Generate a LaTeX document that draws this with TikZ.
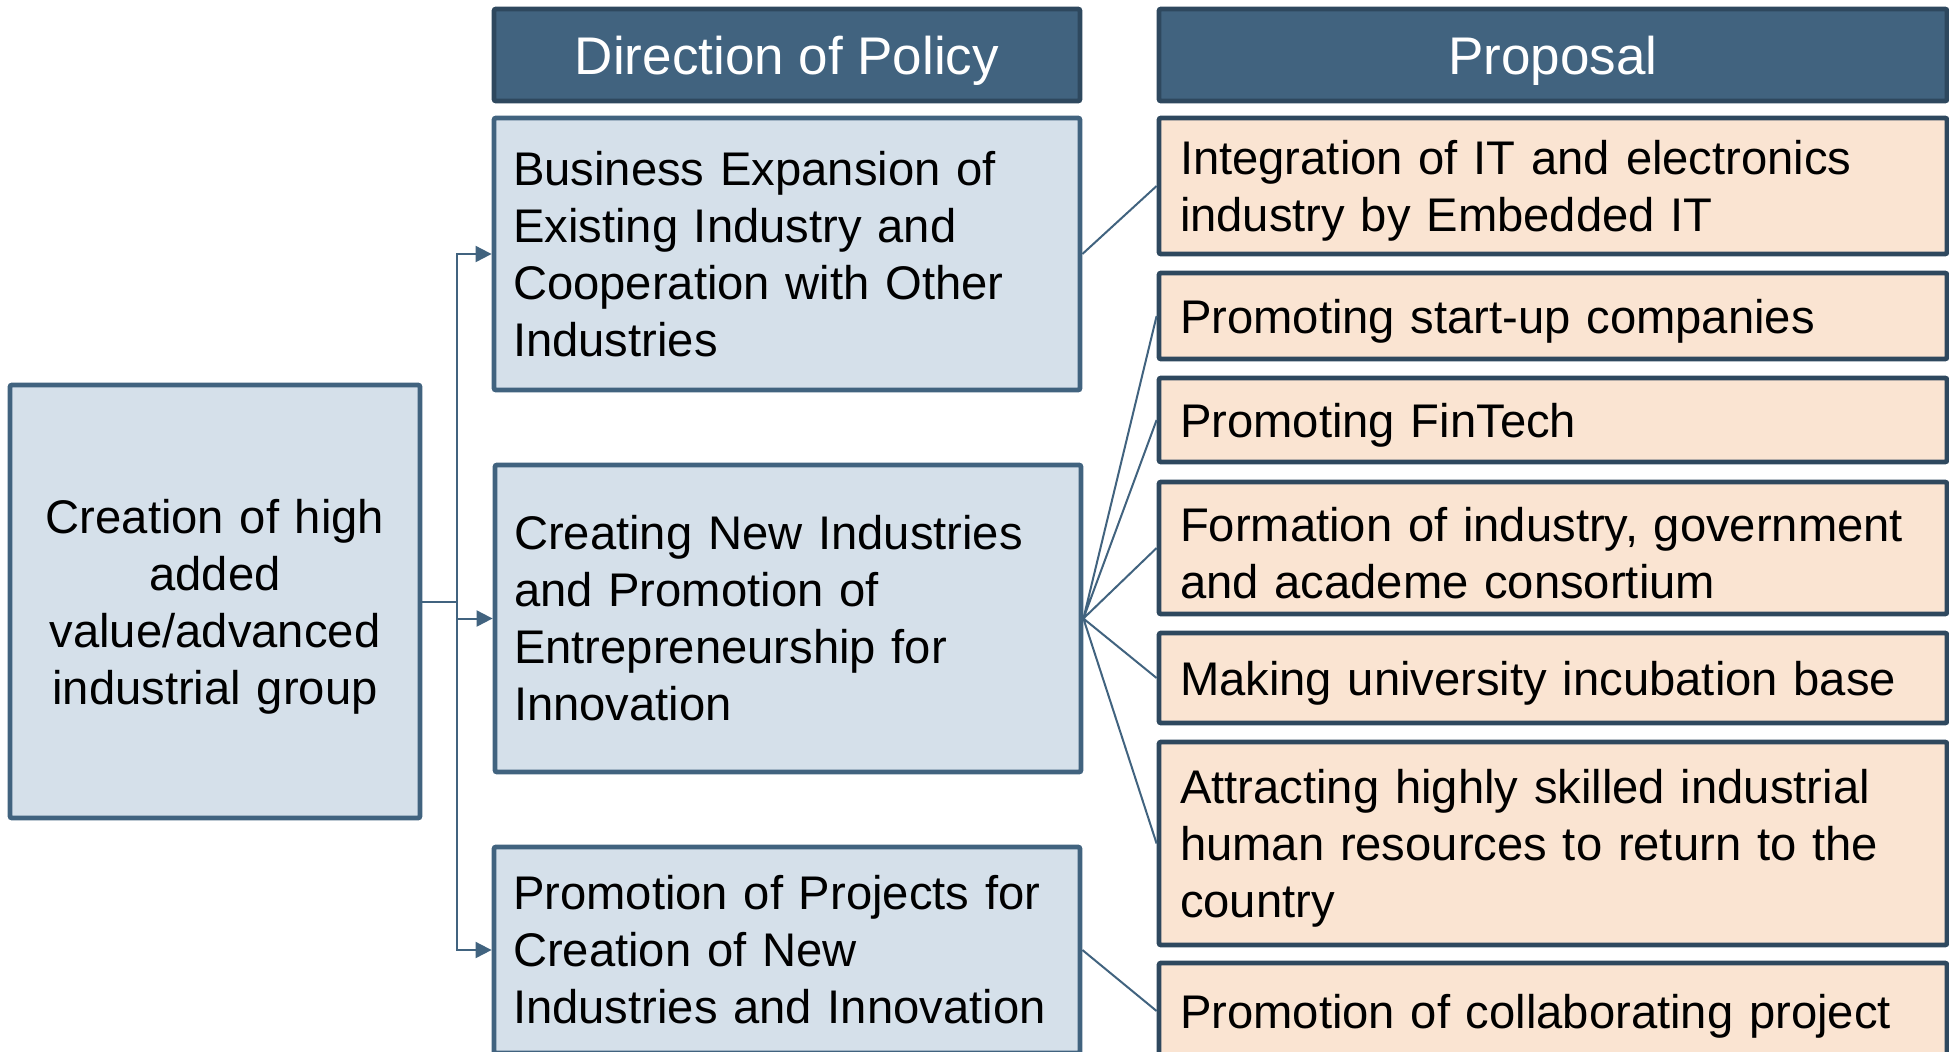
\documentclass[tikz,border=0pt]{standalone}
\usepackage{fontspec}
\setmainfont{Liberation Sans}
\usetikzlibrary{
    arrows.meta,
    positioning
}
\definecolor{boxblue}{HTML}{D5E0EA}
\definecolor{edgeblue}{HTML}{41637F}
\definecolor{darkblue}{HTML}{2E485E}
\definecolor{peach}{HTML}{FAE4D2}
\tikzset{
    base/.style={draw, line width=2.4pt, rounded corners=1pt, inner xsep=10.5pt, inner ysep=0pt,
        font=\fontsize{23.6}{28.5}\selectfont, text=black},
    lower/.style={execute at begin node={\rule{0pt}{22pt}}},
    dirbox/.style={base, draw=edgeblue, fill=boxblue, inner xsep=9.5pt, text width=274pt, align=left},
    propbox/.style={base, lower, draw=darkblue, fill=peach, text width=373pt, align=left},
    headbox/.style={base, draw=darkblue, fill=edgeblue, text=white, align=center,
        font=\fontsize{26.5}{30}\selectfont, minimum height=46pt, text height=22pt, text depth=2.5pt},
    link/.style={edgeblue, line width=1pt},
    branch/.style={link, -{Triangle[length=8pt, width=8pt]}}
}

\begin{document}
\begin{tikzpicture}[x=0.5pt, y=-0.5pt]
                        \clip (0, 0) rectangle (1949, 1051);
                        \node[base, lower, draw=edgeblue, fill=boxblue, text width=184pt, align=center, minimum height=216.5pt] (crea) at (215, 601.5) {Creation of high\\added\\value/advanced\\industrial group};
                        \node[headbox, minimum width=293pt] (dirhead) at (787, 55) {Direction of Policy};
                        \node[headbox, minimum width=394pt] (prophead) at (1553, 55) {Proposal};
                        \node[dirbox, minimum height=136pt] (d1) at (787, 254) {Business Expansion of\\Existing Industry and\\Cooperation with Other\\Industries};
                        \node[dirbox, minimum height=153.5pt] (d2) at (788, 618.5) {Creating New Industries\\and Promotion of\\Entrepreneurship for\\Innovation};
                        \node[dirbox, minimum height=103pt] (d3) at (787, 950) {Promotion of Projects for\\Creation of New\\Industries and Innovation};
                        \node[propbox, minimum height=68pt] (p1) at (1553, 186) {Integration of IT and electronics\\industry by Embedded IT};
                        \node[propbox, minimum height=43pt] (p2) at (1553, 316) {Promoting start-up companies};
                        \node[propbox, minimum height=42pt] (p3) at (1553, 420) {Promoting FinTech};
                        \node[propbox, minimum height=66pt] (p4) at (1553, 548) {Formation of industry, government\\and academe consortium};
                        \node[propbox, minimum height=45pt] (p5) at (1553, 678) {Making university incubation base};
                        \node[propbox, minimum height=101.5pt] (p6) at (1553, 843.5) {Attracting highly skilled industrial\\human resources to return to the\\country};
                        \node[propbox, minimum height=48pt] (p7) at (1553, 1011) {Promotion of collaborating project};
                        \coordinate (split) at (457, 601.5);
                        \draw[link] (crea) -- (split);
                        \draw[branch] (split) |- (d1);
                        \draw[branch] (split) |- (d2);
                        \draw[branch] (split) |- (d3);
                        \draw[link]
                        (d1.east) -- (p1.west)
                        (d2.east) -- (p2.west)
                        (d2.east) -- (p3.west)
                        (d2.east) -- (p4.west)
                        (d2.east) -- (p5.west)
                        (d2.east) -- (p6.west)
                        (d3.east) -- (p7.west);
                    \end{tikzpicture}
\end{document}
